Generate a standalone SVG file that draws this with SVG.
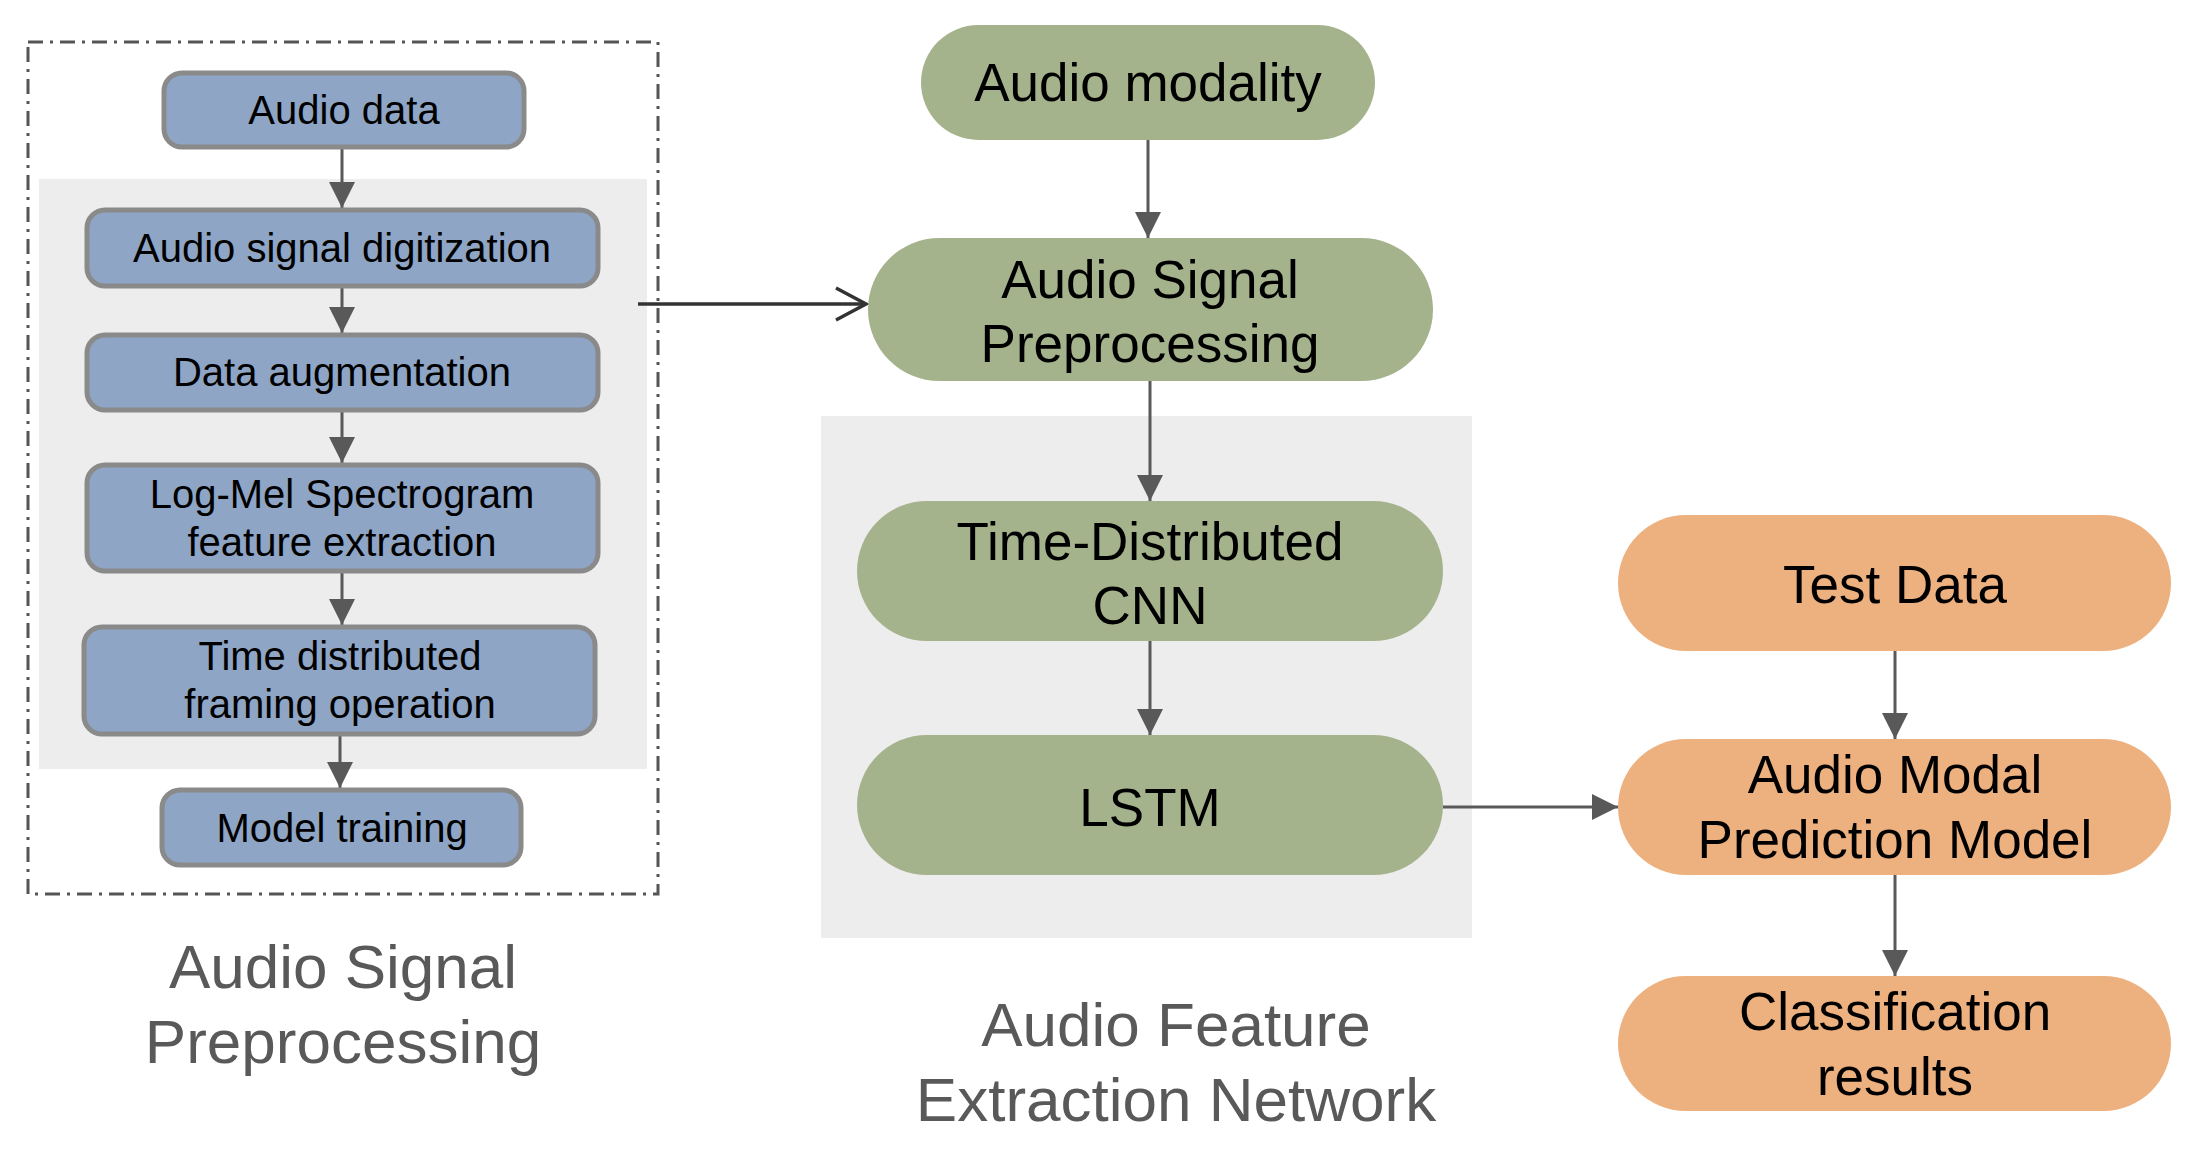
<svg xmlns="http://www.w3.org/2000/svg" width="2196" height="1154" viewBox="0 0 2196 1154">
<style>
.t{font-family:"Liberation Sans",Arial,sans-serif;fill:#000;text-anchor:middle}
.s{font-size:40px}
.m{font-size:53px}
.lab{font-family:"Liberation Sans",Arial,sans-serif;fill:#595959;font-size:62px;text-anchor:middle}
.blue{fill:#8EA5C5;stroke:#8A8A8A;stroke-width:5}
.green{fill:#A5B38C}
.orange{fill:#EDB07F}
.bg{fill:#EDEDED}
.c{stroke:#595959;stroke-width:3;fill:none;marker-end:url(#ah)}
</style>
<defs>
<marker id="ah" markerUnits="userSpaceOnUse" markerWidth="26" markerHeight="26" refX="26" refY="13" orient="auto" viewBox="0 0 26 26">
<path d="M0,0 L26,13 L0,26 z" fill="#595959"/>
</marker>
<marker id="open" markerUnits="userSpaceOnUse" markerWidth="36" markerHeight="36" refX="32" refY="18" orient="auto" viewBox="0 0 36 36">
<path d="M2,2 L32,18 L2,34" fill="none" stroke="#333" stroke-width="3.5"/>
</marker>
</defs>
<rect width="2196" height="1154" fill="#fff"/>
<g id="backgrounds">
<rect class="bg" x="39" y="179" width="608" height="590"/>
<rect class="bg" x="821" y="416" width="651" height="522"/>
<rect x="28" y="42" width="630" height="852" fill="none" stroke="#555" stroke-width="3" stroke-dasharray="15 7 3 7"/>
</g>
<g id="connectors">
<line class="c" x1="342" y1="149" x2="342" y2="208"/>
<line class="c" x1="342" y1="288" x2="342" y2="333"/>
<line class="c" x1="342" y1="412" x2="342" y2="463"/>
<line class="c" x1="342" y1="573" x2="342" y2="625"/>
<line class="c" x1="340" y1="736" x2="340" y2="788"/>
<line x1="638" y1="304" x2="866" y2="304" stroke="#333" stroke-width="3.5" marker-end="url(#open)"/>
<line class="c" x1="1148" y1="140" x2="1148" y2="238"/>
<line class="c" x1="1150" y1="381" x2="1150" y2="501"/>
<line class="c" x1="1150" y1="641" x2="1150" y2="735"/>
<line class="c" x1="1443" y1="807" x2="1618" y2="807"/>
<line class="c" x1="1895" y1="651" x2="1895" y2="739"/>
<line class="c" x1="1895" y1="875" x2="1895" y2="976"/>
</g>
<g id="n-audio-data"><rect class="blue" x="164" y="73" width="360" height="74" rx="18"/><text class="t s" x="344" y="124">Audio data</text></g>
<g id="n-digitization"><rect class="blue" x="87" y="210" width="511" height="76" rx="18"/><text class="t s" x="342" y="262">Audio signal digitization</text></g>
<g id="n-augmentation"><rect class="blue" x="87" y="335" width="511" height="75" rx="18"/><text class="t s" x="342" y="386">Data augmentation</text></g>
<g id="n-logmel"><rect class="blue" x="87" y="465" width="511" height="106" rx="18"/><text class="t s" x="342" y="508">Log-Mel Spectrogram</text><text class="t s" x="342" y="556">feature extraction</text></g>
<g id="n-framing"><rect class="blue" x="84" y="627" width="511" height="107" rx="18"/><text class="t s" x="340" y="670">Time distributed</text><text class="t s" x="340" y="718">framing operation</text></g>
<g id="n-model-training"><rect class="blue" x="162" y="790" width="359" height="75" rx="18"/><text class="t s" x="342" y="842">Model training</text></g>
<g id="n-audio-modality"><rect class="green" x="921" y="25" width="454" height="115" rx="57.5"/><text class="t m" x="1148" y="101">Audio modality</text></g>
<g id="n-asp"><rect class="green" x="868" y="238" width="565" height="143" rx="71.5"/><text class="t m" x="1150" y="298">Audio Signal</text><text class="t m" x="1150" y="362">Preprocessing</text></g>
<g id="n-tdcnn"><rect class="green" x="857" y="501" width="586" height="140" rx="70"/><text class="t m" x="1150" y="560">Time-Distributed</text><text class="t m" x="1150" y="624">CNN</text></g>
<g id="n-lstm"><rect class="green" x="857" y="735" width="586" height="140" rx="70"/><text class="t m" x="1150" y="826">LSTM</text></g>
<g id="n-test-data"><rect class="orange" x="1618" y="515" width="553" height="136" rx="68"/><text class="t m" x="1895" y="603">Test Data</text></g>
<g id="n-prediction"><rect class="orange" x="1618" y="739" width="553" height="136" rx="68"/><text class="t m" x="1895" y="793">Audio Modal</text><text class="t m" x="1895" y="858">Prediction Model</text></g>
<g id="n-classification"><rect class="orange" x="1618" y="976" width="553" height="135" rx="67.5"/><text class="t m" x="1895" y="1030">Classification</text><text class="t m" x="1895" y="1095">results</text></g>
<g id="labels">
<text class="lab" x="343" y="988">Audio Signal</text>
<text class="lab" x="343" y="1063">Preprocessing</text>
<text class="lab" x="1176" y="1046">Audio Feature</text>
<text class="lab" x="1176" y="1121">Extraction Network</text>
</g>
</svg>
